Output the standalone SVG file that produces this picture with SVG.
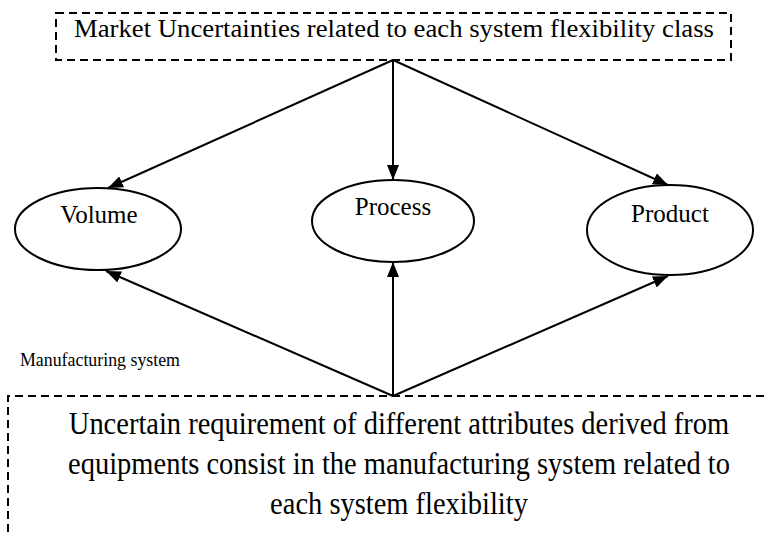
<svg xmlns="http://www.w3.org/2000/svg" width="768" height="538" viewBox="0 0 768 538">
<style>
text{font-family:"Liberation Serif","Times New Roman",serif;fill:#000}
.dash{fill:none;stroke:#000;stroke-width:2;stroke-dasharray:8,5}
.ell{fill:#fff;stroke:#000;stroke-width:2}
.con{stroke:#000;stroke-width:2;fill:none;marker-end:url(#ah)}
.big{font-size:32px;text-anchor:middle}
</style>
<defs>
<marker id="ah" viewBox="0 0 15 12" refX="15" refY="6" markerWidth="15" markerHeight="12" markerUnits="userSpaceOnUse" orient="auto">
<path d="M0,0 L15,6 L0,12 Z" fill="#000"/>
</marker>
</defs>
<rect width="768" height="538" fill="#fff"/>
<g id="top-box">
<rect class="dash" x="56" y="13" width="675" height="47"/>
<text x="394" y="37" font-size="25" text-anchor="middle" textLength="640" lengthAdjust="spacingAndGlyphs">Market Uncertainties related to each system flexibility class</text>
</g>
<g id="connectors">
<line class="con" x1="393" y1="60" x2="108" y2="188"/>
<line class="con" x1="393" y1="60" x2="393" y2="180"/>
<line class="con" x1="393" y1="60" x2="668" y2="185"/>
<line class="con" x1="393" y1="396" x2="106" y2="271"/>
<line class="con" x1="393" y1="396" x2="393" y2="262"/>
<line class="con" x1="393" y1="396" x2="668" y2="276"/>
</g>
<g id="volume">
<ellipse class="ell" cx="98" cy="229" rx="83" ry="41"/>
<text x="99" y="223" font-size="25" text-anchor="middle">Volume</text>
</g>
<g id="process">
<ellipse class="ell" cx="393" cy="221" rx="81" ry="41"/>
<text x="393" y="215" font-size="25" text-anchor="middle">Process</text>
</g>
<g id="product">
<ellipse class="ell" cx="670" cy="230" rx="83" ry="45"/>
<text x="670" y="222" font-size="25" text-anchor="middle">Product</text>
</g>
<g id="manufacturing-label">
<text x="20" y="366" font-size="18" textLength="160" lengthAdjust="spacingAndGlyphs">Manufacturing system</text>
</g>
<g id="bottom-box">
<path class="dash" d="M8,532 L8,396 L768,396"/>
<g transform="translate(399,0) scale(0.89,1)">
<text class="big" x="0" y="434">Uncertain requirement of different attributes derived from</text>
<text class="big" x="0" y="474">equipments consist in the manufacturing system related to</text>
<text class="big" x="0" y="514">each system flexibility</text>
</g>
</g>
</svg>
